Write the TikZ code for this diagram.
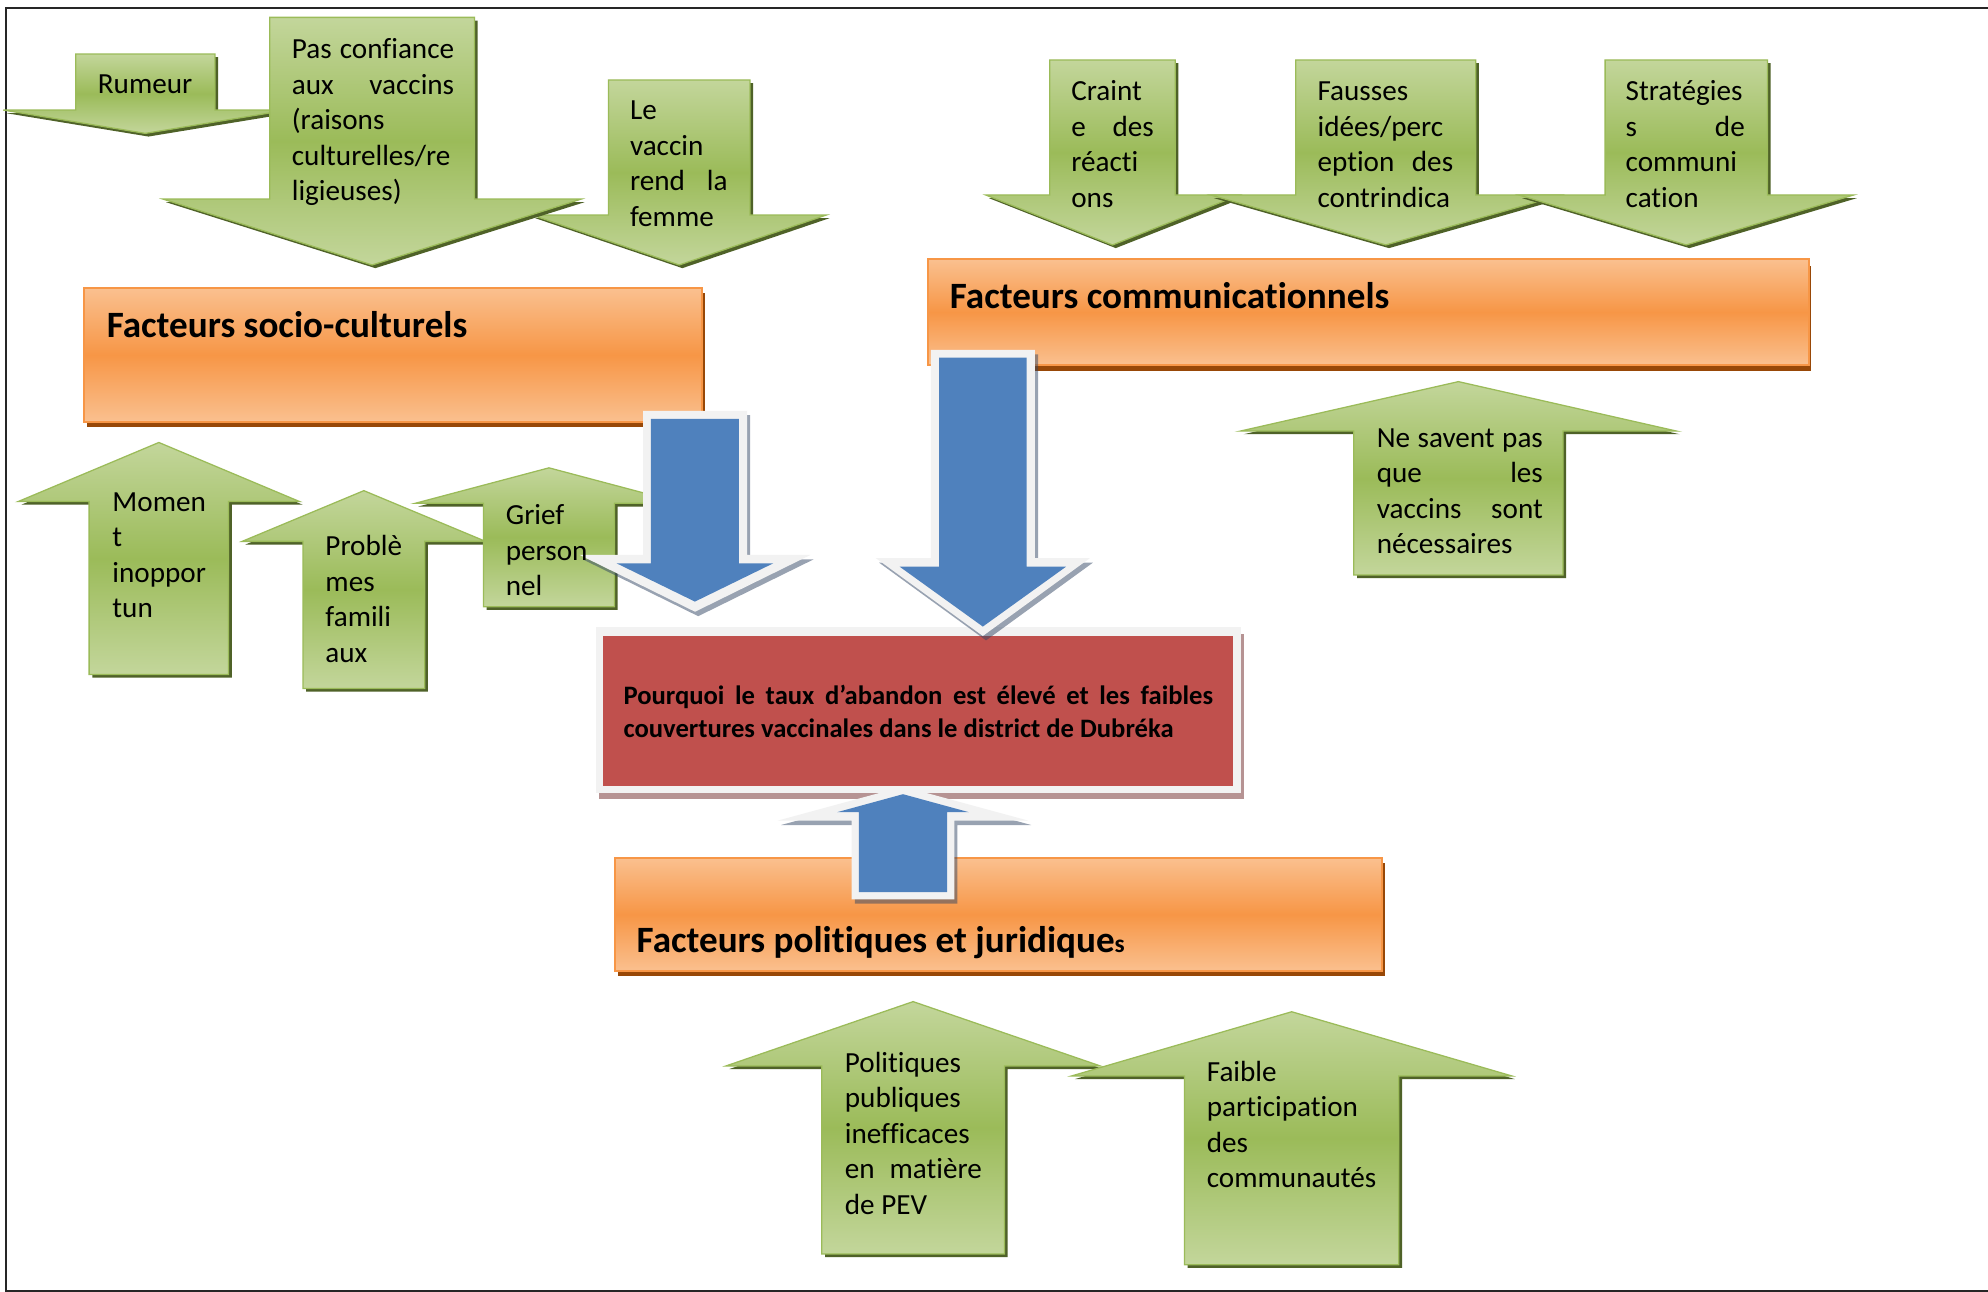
\documentclass[tikz,border=0pt]{standalone}
\usepackage{fontspec}
\setmainfont{Carlito}[Ligatures={NoCommon}]
\definecolor{gl}{HTML}{C3D69B}
\definecolor{gd}{HTML}{9BBB59}
\definecolor{gsh}{HTML}{4F6228}
\definecolor{ol}{HTML}{FAC08F}
\definecolor{od}{HTML}{F79646}
\definecolor{osh}{HTML}{984807}
\definecolor{redf}{HTML}{C0504D}
\definecolor{wb}{HTML}{F2F2F2}
\definecolor{bluef}{HTML}{4F81BD}
\definecolor{bsh}{RGB}{50,70,100}
\definecolor{rsh}{RGB}{110,40,40}
\newcommand{\arrowpoly}[7]{%
  \path[#1] ({#2-#3},#4) -- ({#2+#3},#4) -- ({#2+#3},#5) -- ({#2+#6},#5) -- (#2,#7) -- ({#2-#6},#5) -- ({#2-#3},#5) -- cycle;}
\newcommand{\greenarrow}[6]{%
  \arrowpoly{gshadow}{#1}{#2}{#3}{#4}{#5}{#6}%
  \arrowpoly{gbody}{#1}{#2}{#3}{#4}{#5}{#6}}
\newcommand{\jline}[2]{\makebox[#1pt][s]{#2}}
\tikzset{
  gshadow/.style={fill=gsh, shift={(2.5,2.5)}},
  gbody/.style={top color=gl, bottom color=gl, middle color=gd, draw=gd, line width=1pt},
  obody/.style={top color=ol, bottom color=ol, middle color=od, draw=od, line width=1.5pt},
  oshadow/.style={fill=osh},
  bshadow/.style={fill=bsh, fill opacity=0.5, shift={(2.5,3.5)}},
  bouter/.style={fill=wb},
  binner/.style={fill=bluef},
  lbl/.style={inner sep=0pt, anchor=base west, font=\fontsize{23}{28}\selectfont},
  ttl/.style={inner sep=0pt, anchor=base west, font=\bfseries\fontsize{29.3}{35}\selectfont},
  rtx/.style={inner sep=0pt, anchor=base west, font=\bfseries\fontsize{21}{26}\selectfont},
}
\begin{document}
\begin{tikzpicture}[x=1pt,y=-1pt]
\useasboundingbox (0,0) rectangle (1568,1019);
\fill[white] (0,0) rectangle (1568,1019);
% frame
\draw[line width=1.5pt, black!85] (1568,6) -- (5,6) -- (5,1018) -- (1568,1018);

% green arrows, top left
\greenarrow{114.6}{54.9}{42.6}{86.8}{112}{105.2}
\greenarrow{535.7}{55.8}{63.1}{169.6}{116}{209}
\greenarrow{293.5}{80.8}{13.7}{157}{165}{209}
% green arrows, top right
\greenarrow{877.5}{49.5}{47.3}{153.8}{100}{193.2}
\greenarrow{1093}{71}{47.3}{153.8}{138}{193.2}
\greenarrow{1330}{64}{47.3}{153.8}{132}{193.2}
% green up arrows
\greenarrow{1150.3}{82.5}{453.5}{340}{172}{301}
\greenarrow{125.3}{55}{532}{395.6}{111}{349}
\greenarrow{287}{48}{543}{427}{96}{387}
\greenarrow{433}{51.6}{478.5}{397}{105.6}{369}
\greenarrow{720.2}{72}{989}{840.7}{147.5}{790}
\greenarrow{1018.8}{84.5}{997.6}{848.6}{173.5}{798}

% orange boxes
\fill[oshadow] (68.7,231.4) rectangle (555.9,336.6);
\path[obody] (66.2,227.4) rectangle (553.4,332.6);
\fill[oshadow] (734,209.5) rectangle (1428.7,292.9);
\path[obody] (732,204.5) rectangle (1426.7,287.9);
\fill[oshadow] (487.5,680.5) rectangle (1092.5,770);
\path[obody] (485,676.5) rectangle (1090,766);

% red box
\fill[rsh, fill opacity=0.5] (472.7,499.9) rectangle (981.5,630.3);
\fill[wb] (469.7,494.9) rectangle (978.5,625.3);
\fill[redf] (475.7,501.4) rectangle (972.4,620.2);

% blue arrows
\arrowpoly{bshadow}{548.2}{41}{324}{437.7}{91}{482.5}
\arrowpoly{bouter}{548.2}{41}{324}{437.7}{91}{482.5}
\arrowpoly{binner}{548.1}{34.7}{330.4}{444.3}{61.8}{474.5}
\arrowpoly{bshadow}{775.2}{41}{276}{440.3}{84.3}{501.6}
\arrowpoly{bouter}{775.2}{41}{276}{440.3}{84.3}{501.6}
\arrowpoly{binner}{775.2}{34.5}{282}{446.9}{65.7}{494.2}
\arrowpoly{bshadow}{712.2}{40.5}{709.3}{647.2}{98.6}{620.4}
\arrowpoly{bouter}{712.2}{40.5}{709.3}{647.2}{98.6}{620.4}
\arrowpoly{binner}{712.2}{34.8}{703.7}{640.6}{52}{626.4}

% titles
\node[ttl] (t1) at (84,266) {Facteurs socio-culturels};
\node[ttl] (t2) at (749,243) {Facteurs communicationnels};
\node[ttl] (t3) at (502,751) {Facteurs politiques et juridique{\fontsize{20}{24}\selectfont s}};

% red text
\node[rtx] (q) at (491.6,555.5) {\parbox[t]{470pt}{\raggedright\jline{465}{Pourquoi le taux d’abandon est élevé et les faibles}\\couvertures vaccinales dans le district de Dubréka}};

% green labels
\node[lbl] (rum) at (77,74) {Rumeur};
\node[lbl] (pas) at (230,46.2) {\parbox[t]{200pt}{\raggedright\jline{128}{Pas confiance}\\\jline{128}{aux vaccins}\\(raisons\\culturelles/re\\ligieuses)}};
\node[lbl] (vac) at (496.7,94.5) {\parbox[t]{200pt}{\raggedright Le\\vaccin\\\jline{77}{rend la}\\femme}};
\node[lbl] (cra) at (844.8,79.5) {\parbox[t]{200pt}{\raggedright Craint\\\jline{65}{e des}\\réacti\\ons}};
\node[lbl] (fau) at (1039,79.5) {\parbox[t]{200pt}{\raggedright Fausses\\idées/perc\\\jline{107}{eption des}\\contrindica}};
\node[lbl] (str) at (1282,79.5) {\parbox[t]{200pt}{\raggedright Stratégies\\\jline{94}{s de}\\communi\\cation}};
\node[lbl] (nes) at (1085.7,352.7) {\parbox[t]{200pt}{\raggedright\jline{131}{Ne savent pas}\\\jline{131}{que les}\\\jline{131}{vaccins sont}\\nécessaires}};
\node[lbl] (mom) at (88.5,403.4) {\parbox[t]{200pt}{\raggedright Momen\\t\\inoppor\\tun}};
\node[lbl] (pro) at (256.5,438.2) {\parbox[t]{200pt}{\raggedright Problè\\mes\\famili\\aux}};
\node[lbl] (gri) at (398.8,413.7) {\parbox[t]{200pt}{\raggedright Grief\\person\\nel}};
\node[lbl] (pol) at (666.2,845.6) {\parbox[t]{200pt}{\raggedright Politiques\\publiques\\inefficaces\\\jline{108}{en matière}\\de PEV}};
\node[lbl] (fai) at (951.7,853) {\parbox[t]{200pt}{\raggedright Faible\\participation\\des\\communautés}};
\end{tikzpicture}
\end{document}
